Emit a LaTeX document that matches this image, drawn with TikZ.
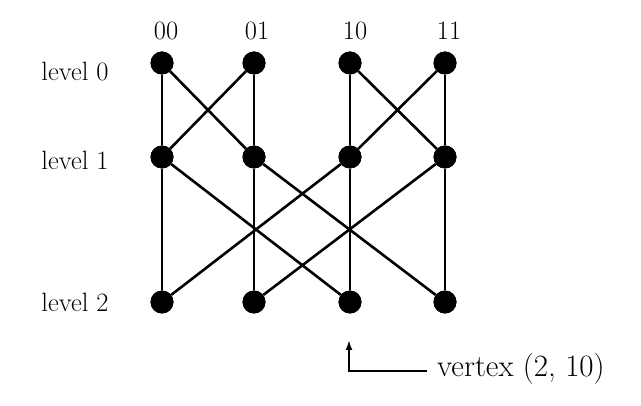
\documentclass[tikz,border=0pt]{standalone}
\usetikzlibrary{arrows.meta}
\begin{document}
\begin{tikzpicture}[x=1pt,y=-1pt,
  vtx/.style={circle,fill=black,inner sep=0pt,minimum width=21pt,minimum height=23pt},
  edge/.style={line width=2.6pt},
  lbl/.style={font=\fontsize{26.5}{30}\selectfont,inner sep=0pt}]
\useasboundingbox (0,0) rectangle (641,406);
\foreach \c/\x in {00/162,01/254,10/350,11/445}{
  \node[vtx] (a\c) at (\x,63) {};
  \node[vtx] (b\c) at (\x,157) {};
  \node[vtx] (c\c) at (\x,302) {};
}
\node[lbl] (t00) at (166,31) {00};
\node[lbl] (t01) at (257,31) {01};
\node[lbl] (t10) at (355,31) {10};
\node[lbl] (t11) at (449,31) {11};
\node[lbl] (l0) at (75,72) {level 0};
\node[lbl] (l1) at (75,160) {level 1};
\node[lbl] (l2) at (75,302) {level 2};
\foreach \i in {00,01,10,11}{
  \draw[edge] (a\i) -- (b\i);
  \draw[edge] (b\i) -- (c\i);
}
\draw[edge] (a00) -- (b01); \draw[edge] (a01) -- (b00);
\draw[edge] (a10) -- (b11); \draw[edge] (a11) -- (b10);
\draw[edge] (b00) -- (c10); \draw[edge] (b10) -- (c00);
\draw[edge] (b01) -- (c11); \draw[edge] (b11) -- (c01);
\foreach \c in {00,01,10,11}{
  \node[vtx] at (a\c) {}; \node[vtx] at (b\c) {}; \node[vtx] at (c\c) {};
}
\node[font=\fontsize{31}{36}\selectfont,inner sep=0pt,anchor=west] (vt) at (437,369) {vertex (2, 10)};
\coordinate (ah) at (349,340);
\coordinate (corner) at (349,371);
\coordinate (hend) at (427,371);
\draw[line width=2.6pt,-{Latex[length=10pt,width=7pt]}] (hend) -- (corner) -- (ah);
\end{tikzpicture}
\end{document}
